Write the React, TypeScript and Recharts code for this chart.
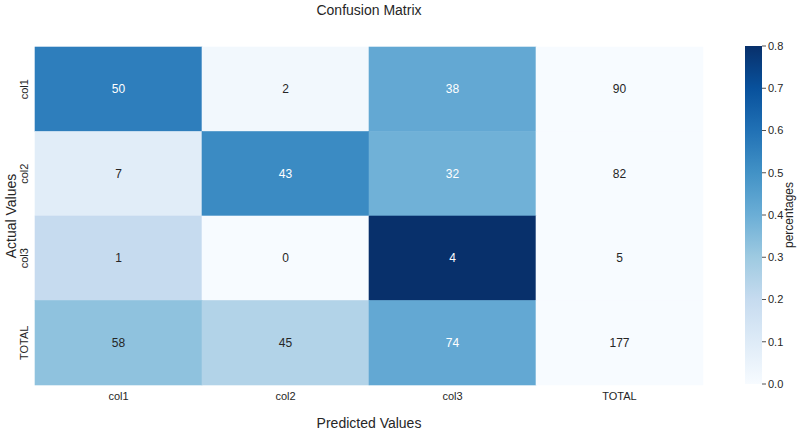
import React from "react";
import { BarChart, Bar, XAxis, YAxis } from "recharts";

const columns = ["col1", "col2", "col3", "TOTAL"];
const rows = ["col1", "col2", "col3", "TOTAL"];

const countsRow1 = [50, 2, 38, 90];
const countsRow2 = [7, 43, 32, 82];
const countsRow3 = [1, 0, 4, 5];
const countsTotal = [58, 45, 74, 177];

const pctRow1 = [0.56, 0.02, 0.42, 0.0];
const pctRow2 = [0.09, 0.52, 0.39, 0.0];
const pctRow3 = [0.2, 0.0, 0.8, 0.0];
const pctTotal = [0.33, 0.25, 0.42, 0.0];

const colorbarTicks = [0, 0.1, 0.2, 0.3, 0.4, 0.5, 0.6, 0.7, 0.8];

const counts = [countsRow1, countsRow2, countsRow3, countsTotal];
const pcts = [pctRow1, pctRow2, pctRow3, pctTotal];

const VMAX = 0.8;
const BLUES = ["#f7fbff", "#deebf7", "#c6dbef", "#9ecae1", "#6baed6", "#4292c6", "#2171b5", "#08519c", "#08306b"];
const DARK = "#262626";
const FONT = "'Liberation Sans', Arial, sans-serif";

function hexToRgb(h: string) {
  return [parseInt(h.slice(1, 3), 16), parseInt(h.slice(3, 5), 16), parseInt(h.slice(5, 7), 16)];
}
function blues(v: number): number[] {
  const t = Math.max(0, Math.min(1, v / VMAX)) * (BLUES.length - 1);
  const i = Math.min(Math.floor(t), BLUES.length - 2);
  const f = t - i;
  const a = hexToRgb(BLUES[i]);
  const b = hexToRgb(BLUES[i + 1]);
  return [0, 1, 2].map((k) => a[k] + (b[k] - a[k]) * f);
}
function rgbStr(c: number[]) {
  return `rgb(${c.map((x) => Math.round(x)).join(",")})`;
}
function lum(c: number[]) {
  const l = c.map((x) => {
    const s = x / 255;
    return s <= 0.03928 ? s / 12.92 : Math.pow((s + 0.055) / 1.055, 2.4);
  });
  return 0.2126 * l[0] + 0.7152 * l[1] + 0.0722 * l[2];
}

const data = columns.map((name, j) => {
  const d: any = { name };
  rows.forEach((_, i) => {
    d[`r${i}`] = 1;
    d[`v${i}`] = counts[i][j];
    d[`p${i}`] = pcts[i][j];
  });
  return d;
});

const makeShape = (i: number) => (props: any) => {
  const { x, y, width, height, payload } = props;
  const top = Math.min(y, y + height);
  const h = Math.abs(height);
  const c = blues(payload[`p${i}`]);
  const fill = rgbStr(c);
  const txt = lum(c) < 0.408 ? "#ffffff" : DARK;
  return (
    <g>
      <rect x={x} y={top} width={width} height={h} fill={fill} stroke={fill} strokeWidth={0.6} />
      <text
        x={x + width / 2}
        y={top + h / 2}
        textAnchor="middle"
        dominantBaseline="central"
        fontSize={12}
        fontFamily={FONT}
        fill={txt}
      >
        {payload[`v${i}`]}
      </text>
    </g>
  );
};

const YTick = (props: any) => {
  const { x, y, payload } = props;
  const label = rows[Math.floor(payload.value)];
  return (
    <text
      x={x}
      y={y}
      transform={`rotate(-90, ${x}, ${y})`}
      textAnchor="middle"
      dominantBaseline="central"
      fontSize={11}
      fontFamily={FONT}
      fill={DARK}
    >
      {label}
    </text>
  );
};

export default function App() {
  return (
    <div style={{ position: "absolute", left: 0, top: 0, width: 800, height: 434, background: "#ffffff" }}>
      <div style={{ position: "absolute", left: 0, top: 0 }}>
        <BarChart
          width={800}
          height={434}
          data={data}
          margin={{ top: 47, right: 97, bottom: 19, left: 0 }}
          barCategoryGap={0}
          barGap={0}
        >
          <XAxis
            dataKey="name"
            type="category"
            axisLine={false}
            tickLine={false}
            tickSize={5}
            tickMargin={2}
            height={30}
            tick={{ fontSize: 11, fill: DARK, fontFamily: FONT }}
          />
          <YAxis
            type="number"
            domain={[0, 4]}
            reversed
            ticks={[0.5, 1.5, 2.5, 3.5]}
            interval={0}
            axisLine={false}
            tickLine={false}
            width={35}
            tick={(p: any) => <YTick {...p} x={24} />}
          />
          {rows.map((r, i) => (
            <Bar key={r} dataKey={`r${i}`} stackId="m" isAnimationActive={false} shape={makeShape(i)} />
          ))}
        </BarChart>
      </div>
      <div style={{ position: "absolute", left: 745, top: 0 }}>
        <BarChart
          width={55}
          height={434}
          data={[{ name: "cb", v: VMAX }]}
          margin={{ top: 46, right: 0, bottom: 50, left: 0 }}
          barCategoryGap={0}
        >
          <defs>
            <linearGradient id="bluesGrad" x1="0" y1="1" x2="0" y2="0">
              {BLUES.map((c, k) => (
                <stop key={k} offset={k / (BLUES.length - 1)} stopColor={c} />
              ))}
            </linearGradient>
          </defs>
          <XAxis dataKey="name" hide />
          <YAxis
            orientation="right"
            type="number"
            domain={[0, VMAX]}
            ticks={colorbarTicks}
            interval={0}
            axisLine={false}
            tickSize={4}
            tickMargin={2}
            width={38}
            tickLine={{ stroke: DARK, strokeWidth: 0.8 }}
            tickFormatter={(v: number) => v.toFixed(1)}
            tick={{ fontSize: 11, fill: DARK, fontFamily: FONT }}
          />
          <Bar dataKey="v" fill="url(#bluesGrad)" isAnimationActive={false} />
        </BarChart>
      </div>
      <svg
        width={800}
        height={434}
        style={{ position: "absolute", left: 0, top: 0, pointerEvents: "none" }}
      >
        <text x={369} y={15} textAnchor="middle" fontSize={14} fontFamily={FONT} fill={DARK}>
          Confusion Matrix
        </text>
        <text x={369} y={428} textAnchor="middle" fontSize={14} fontFamily={FONT} fill={DARK}>
          Predicted Values
        </text>
        <text
          x={11}
          y={216}
          transform="rotate(-90, 11, 216)"
          textAnchor="middle"
          dominantBaseline="central"
          fontSize={14}
          fontFamily={FONT}
          fill={DARK}
        >
          Actual Values
        </text>
        <text
          x={789}
          y={215}
          transform="rotate(-90, 789, 215)"
          textAnchor="middle"
          dominantBaseline="central"
          fontSize={12}
          fontFamily={FONT}
          fill={DARK}
        >
          percentages
        </text>
      </svg>
    </div>
  );
}
